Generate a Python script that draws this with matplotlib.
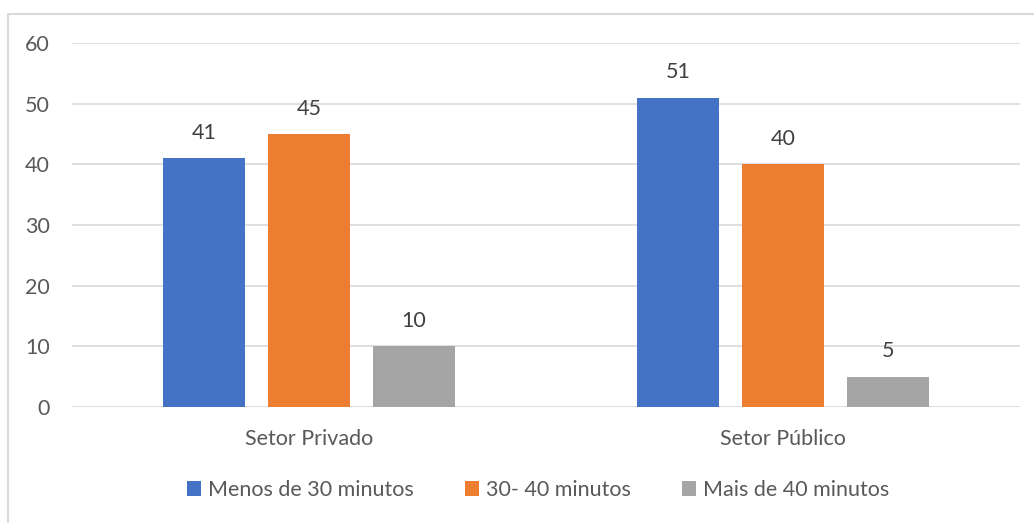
import numpy as np
import matplotlib.pyplot as plt
from matplotlib.patches import Rectangle

categories = ["Setor Privado", "Setor Público"]
series = ["Menos de 30 minutos", "30- 40 minutos", "Mais de 40 minutos"]
values = [
    [41, 51],
    [45, 40],
    [10, 5],
]
colors = ["#4472C4", "#ED7D31", "#A5A5A5"]
yticks = [0, 10, 20, 30, 40, 50, 60]

plt.rcParams['font.family'] = ['Lato', 'DejaVu Sans']
text_color = "#595959"
fs = 15.5

W, H = 1034, 523
fig = plt.figure(figsize=(W / 100, H / 100), dpi=100)

# chart frame
fig.patches.append(Rectangle((8 / W, -0.05), 1.1, 1 - 14 / H + 0.05,
                             transform=fig.transFigure, fill=False,
                             edgecolor="#d9d9d9", linewidth=1.5))

ax = fig.add_axes([72 / W, 1 - 407 / H, (1020 - 72) / W, (407 - 43) / H])

x = np.arange(len(categories))
bar_w = 0.173
step = 0.2215
for i, (name, vals, c) in enumerate(zip(series, values, colors)):
    pos = x + (i - 1) * step
    bars = ax.bar(pos, vals, width=bar_w, color=c, label=name, zorder=3)
    for b, v in zip(bars, vals):
        ax.annotate(str(v), (b.get_x() + b.get_width() / 2, v),
                    xytext=(0, 11), textcoords="offset points",
                    ha="center", va="bottom", fontsize=fs, color="#404040")

ax.set_xlim(-0.5, 1.5)
ax.set_ylim(0, 60)
ax.set_yticks(yticks)
ax.grid(axis="y", color="#d9d9d9", linewidth=1.2, zorder=0)
for s in ax.spines.values():
    s.set_visible(False)
ax.tick_params(axis="both", length=0, labelsize=fs, colors=text_color)
ax.tick_params(axis="y", pad=16)
ax.tick_params(axis="x", pad=16)
ax.set_xticks(x)
ax.set_xticklabels(categories)

leg = fig.legend(loc="center", bbox_to_anchor=(538 / W, 1 - 490 / H), ncol=3,
                 frameon=False, fontsize=fs, handlelength=0.65, handleheight=0.65,
                 handletextpad=0.3, columnspacing=2.4)
for t in leg.get_texts():
    t.set_color(text_color)

fig.savefig("out.png", dpi=100)
